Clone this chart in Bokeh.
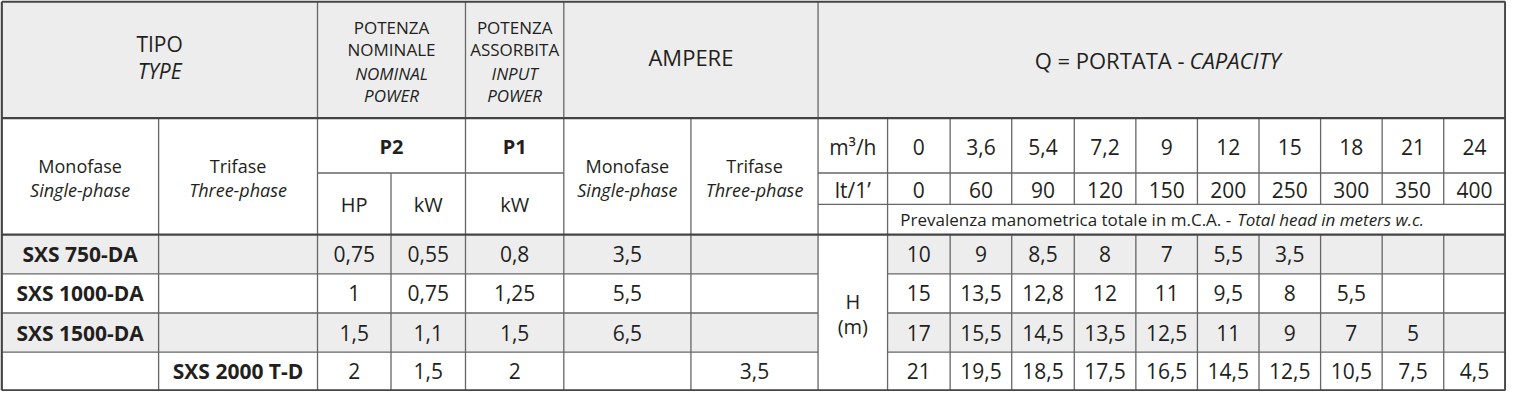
from bokeh.plotting import figure
from bokeh.models import Range1d
from bokeh.core.properties import value
from bokeh.embed import file_html
from bokeh.resources import INLINE

# ---------------- data ----------------
flow_m3h = ["0", "3,6", "5,4", "7,2", "9", "12", "15", "18", "21", "24"]
flow_lmin = ["0", "60", "90", "120", "150", "200", "250", "300", "350", "400"]
models_single = ["SXS 750-DA", "SXS 1000-DA", "SXS 1500-DA", ""]
models_three = ["", "", "", "SXS 2000 T-D"]
p2_hp = ["0,75", "1", "1,5", "2"]
p2_kw = ["0,55", "0,75", "1,1", "1,5"]
p1_kw = ["0,8", "1,25", "1,5", "2"]
amp_single = ["3,5", "5,5", "6,5", ""]
amp_three = ["", "", "", "3,5"]
head_750 = ["10", "9", "8,5", "8", "7", "5,5", "3,5", "", "", ""]
head_1000 = ["15", "13,5", "12,8", "12", "11", "9,5", "8", "5,5", "", ""]
head_1500 = ["17", "15,5", "14,5", "13,5", "12,5", "11", "9", "7", "5", ""]
head_2000 = ["21", "19,5", "18,5", "17,5", "16,5", "14,5", "12,5", "10,5", "7,5", "4,5"]
head_rows = [head_750, head_1000, head_1500, head_2000]

# ---------------- layout ----------------
FONT = "Open Sans"
TXT = "#231f20"
GRAY = "#ededee"
THIN = "#666666"
THICK = "#444444"

XL, XR, YT, YB = 3, 1517, 5, 402
c_mono, c_tipo, c_hp, c_p2, c_p1, c_amono, c_amp, c_unit = 161, 321, 395, 470, 569, 697, 825, 895
flow_edges = [895, 958, 1020, 1083, 1145, 1207, 1269, 1331, 1393, 1455, 1517]
y_h1, y_psplit, y_lt, y_h2 = 124, 180, 212, 243
row_edges = [243, 283, 323, 363, 402]

p = figure(width=1506, height=391, x_range=Range1d(1.8, 1518.2), y_range=Range1d(403.2, 3.8),
           output_backend="svg", toolbar_location=None, min_border=0)
p.axis.visible = False
p.grid.visible = False
p.outline_line_color = None
p.background_fill_color = "white"
p.border_fill_color = "white"

# backgrounds
qL, qR, qT, qB = [XL], [XR], [YT], [y_h1]
for i in (0, 2):
    qL += [XL, c_unit]
    qR += [c_amp, XR]
    qT += [row_edges[i]] * 2
    qB += [row_edges[i + 1]] * 2
p.quad(left=qL, right=qR, top=qT, bottom=qB, fill_color=GRAY, line_color=None)

# thin lines
sx0, sx1, sy0, sy1 = [], [], [], []
def seg(x0, y0, x1, y1):
    sx0.append(x0); sy0.append(y0); sx1.append(x1); sy1.append(y1)

seg(c_tipo, y_psplit, c_p1, y_psplit)
seg(c_amp, y_psplit, XR, y_psplit)
seg(c_amp, y_lt, XR, y_lt)
for y in row_edges[1:-1]:
    seg(XL, y, c_amp, y)
    seg(c_unit, y, XR, y)
for x in (c_tipo, c_p2, c_p1, c_amp):
    seg(x, YT, x, YB)
for x in (c_mono, c_amono, c_unit):
    seg(x, y_h1, x, YB)
seg(c_hp, y_psplit, c_hp, YB)
for x in flow_edges[1:-1]:
    seg(x, y_h1, x, y_lt)
    seg(x, y_h2, x, YB)
p.segment(x0=sx0, y0=sy0, x1=sx1, y1=sy1, line_color=THIN, line_width=1.3)

# thick lines
tx0, tx1, ty0, ty1 = [], [], [], []
for y in (YT, y_h1, y_h2, YB):
    tx0.append(XL); tx1.append(XR); ty0.append(y); ty1.append(y)
for x in (XL, XR):
    tx0.append(x); tx1.append(x); ty0.append(YT); ty1.append(YB)
p.segment(x0=tx0, y0=ty0, x1=tx1, y1=ty1, line_color=THICK, line_width=2.4)

def txt(xs, ys, texts, size, style="normal", align="center"):
    p.text(x=xs, y=ys, text=texts, text_align=align, text_baseline="middle",
           text_font=value(FONT), text_font_size=size, text_font_style=style, text_color=TXT)

# header row 1
cx_tipo = (XL + c_tipo) / 2
txt([cx_tipo], [48], ["TIPO"], "21px")
txt([cx_tipo], [76], ["TYPE"], "21px", "italic")
cx_p2 = (c_tipo + c_p2) / 2
cx_p1 = (c_p2 + c_p1) / 2
txt([cx_p2, cx_p2, cx_p1, cx_p1], [31, 54, 31, 54], ["POTENZA", "NOMINALE", "POTENZA", "ASSORBITA"], "17px")
txt([cx_p2, cx_p2, cx_p1, cx_p1], [78, 101, 78, 101], ["NOMINAL", "POWER", "INPUT", "POWER"], "17px", "italic")
txt([(c_p1 + c_amp) / 2], [62], ["AMPERE"], "22px")
txt([1194], [65], ["Q = PORTATA -"], "22px", "normal", "right")
txt([1199], [65], ["CAPACITY"], "22px", "italic", "left")

# header row 2
cx_mono = (XL + c_mono) / 2
cx_tri = (c_mono + c_tipo) / 2
cx_am = (c_p1 + c_amono) / 2
cx_at = (c_amono + c_amp) / 2
txt([cx_mono, cx_tri, cx_am, cx_at], [173] * 4, ["Monofase", "Trifase", "Monofase", "Trifase"], "18px")
txt([cx_mono, cx_tri, cx_am, cx_at], [197] * 4, ["Single-phase", "Three-phase", "Single-phase", "Three-phase"], "18px", "italic")
txt([cx_p2, cx_p1], [153, 153], ["P2", "P1"], "20px", "bold")
cx_hp = (c_tipo + c_hp) / 2
cx_kw = (c_hp + c_p2) / 2
txt([cx_hp, cx_kw, cx_p1], [212] * 3, ["HP", "kW", "kW"], "20px")
cx_unit = (c_amp + c_unit) / 2
flow_cx = [(flow_edges[i] + flow_edges[i + 1]) / 2 for i in range(len(flow_m3h))]
txt([cx_unit] + flow_cx, [153] * 11, ["m³/h"] + flow_m3h, "21px")
txt([cx_unit] + flow_cx, [197] * 11, ["lt/1’"] + flow_lmin, "21px")
txt([1241], [228], ["Prevalenza manometrica totale in m.C.A. -"], "17px", "normal", "right")
txt([1247], [228], ["Total head in meters w.c."], "17px", "italic", "left")

# data rows
row_cy = [(row_edges[i] + row_edges[i + 1]) / 2 for i in range(4)]
txt([cx_mono] * 4, row_cy, models_single, "21px", "bold")
txt([cx_tri] * 4, row_cy, models_three, "21px", "bold")
txt([cx_hp] * 4, row_cy, p2_hp, "21px")
txt([cx_kw] * 4, row_cy, p2_kw, "21px")
txt([cx_p1] * 4, row_cy, p1_kw, "21px")
txt([cx_am] * 4, row_cy, amp_single, "21px")
txt([cx_at] * 4, row_cy, amp_three, "21px")
txt([cx_unit, cx_unit], [311, 337], ["H", "(m)"], "20px")
hx, hy, ht = [], [], []
for r, vals in enumerate(head_rows):
    for c, v in enumerate(vals):
        hx.append(flow_cx[c]); hy.append(row_cy[r]); ht.append(v)
txt(hx, hy, ht, "21px")

open("out.html", "w").write(file_html(p, INLINE))
